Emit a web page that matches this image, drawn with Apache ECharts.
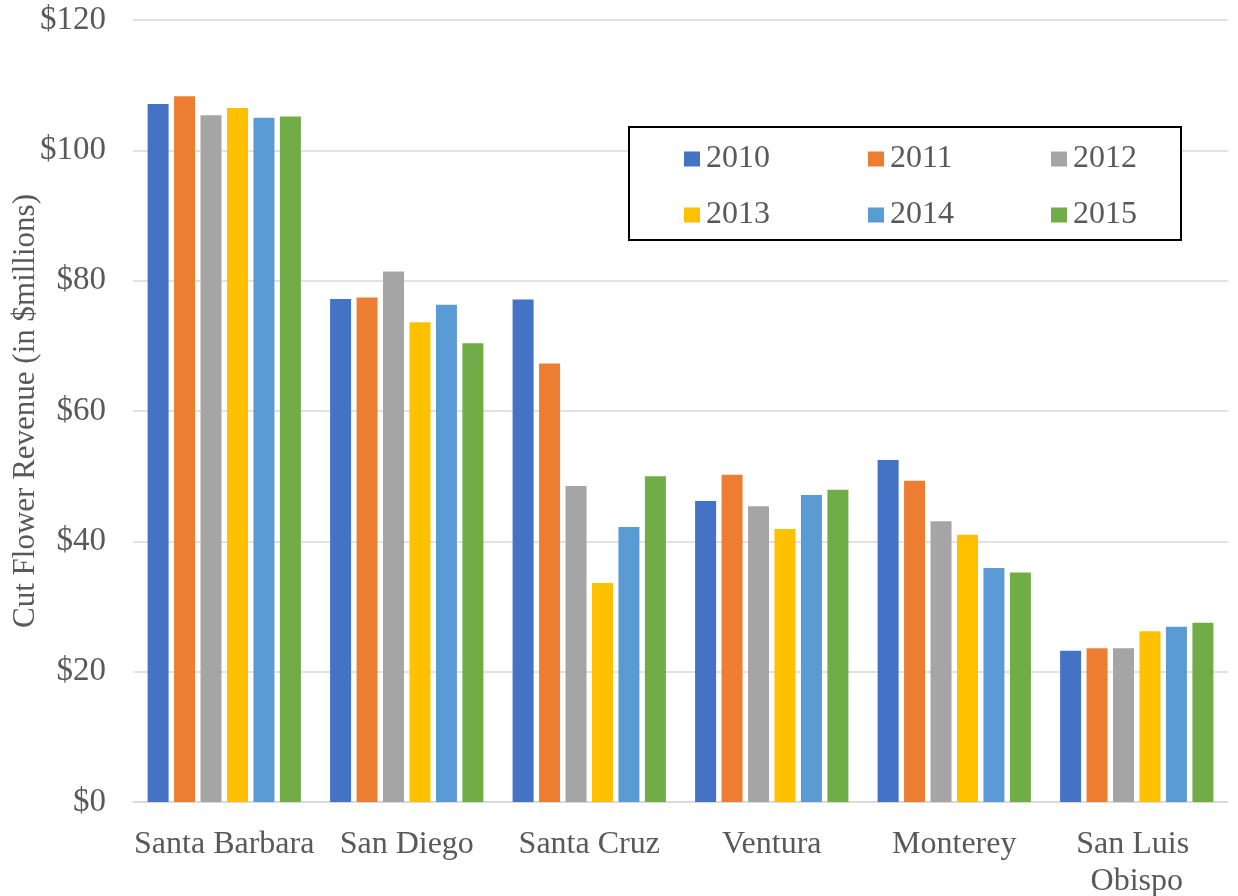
<!DOCTYPE html>
<html>
<head>
<meta charset="utf-8">
<script src="https://cdn.jsdelivr.net/npm/echarts@6/dist/echarts.min.js"></script>
<style>
  html, body { margin: 0; padding: 0; background: #fff; }
  #chart { width: 1238px; height: 896px; }
</style>
</head>
<body>
<div id="chart"></div>
<script>
var counties = ["Santa Barbara", "San Diego", "Santa Cruz", "Ventura", "Monterey", "San Luis Obispo"];
var years = ["2010", "2011", "2012", "2013", "2014", "2015"];
var colors = ["#4472C4", "#ED7D31", "#A5A5A5", "#FFC000", "#5B9BD5", "#70AD47"];

// revenue in $ millions, one array per year, in county order
var rev2010 = [107.1, 77.2, 77.1, 46.2, 52.5, 23.2];
var rev2011 = [108.3, 77.4, 67.3, 50.2, 49.3, 23.6];
var rev2012 = [105.4, 81.4, 48.5, 45.4, 43.1, 23.6];
var rev2013 = [106.5, 73.6, 33.6, 41.9, 41.0, 26.2];
var rev2014 = [105.0, 76.3, 42.2, 47.1, 35.9, 26.9];
var rev2015 = [105.2, 70.4, 50.0, 47.9, 35.2, 27.5];
var revenue = [rev2010, rev2011, rev2012, rev2013, rev2014, rev2015];

var font = "Liberation Serif";
var textColor = "#595959";

var myChart = echarts.init(document.getElementById("chart"));

function legendCol(names, left) {
  return {
    orient: "vertical",
    left: left,
    top: 143,
    padding: 0,
    itemWidth: 16,
    itemHeight: 15,
    itemGap: 24,
    icon: "rect",
    selectedMode: false,
    data: names,
    textStyle: {
      fontFamily: font,
      fontSize: 32,
      lineHeight: 32,
      padding: [0, 0, 0, 1],
      color: textColor
    }
  };
}

var series = years.map(function (y, i) {
  return {
    name: y,
    type: "bar",
    data: revenue[i],
    barWidth: 21,
    barGap: "26%",
    itemStyle: { color: colors[i] },
    animation: false
  };
});

var option = {
  backgroundColor: "#fff",
  color: colors,
  grid: {
    left: 133,
    right: 10,
    top: 20,
    bottom: 94,
    outerBoundsMode: "none"
  },
  graphic: [
    {
      type: "rect",
      z: 3,
      shape: { x: 629, y: 127, width: 552, height: 113 },
      style: { fill: "#fff", stroke: "#000", lineWidth: 2 }
    }
  ],
  legend: [
    legendCol(["2010", "2013"], 684),
    legendCol(["2011", "2014"], 868),
    legendCol(["2012", "2015"], 1051)
  ],
  xAxis: {
    type: "category",
    data: counties,
    axisTick: { show: false },
    axisLine: { lineStyle: { color: "#d9d9d9", width: 1.5 } },
    axisLabel: {
      interval: 0,
      margin: 24,
      width: 182,
      overflow: "break",
      fontFamily: font,
      fontSize: 32,
      lineHeight: 37,
      color: textColor
    }
  },
  yAxis: {
    type: "value",
    min: 0,
    max: 120,
    interval: 20,
    name: "Cut Flower Revenue (in $millions)",
    nameLocation: "middle",
    nameGap: 92,
    nameMoveOverlap: false,
    nameTextStyle: {
      fontFamily: font,
      fontSize: 31,
      color: textColor
    },
    axisLine: { show: false },
    axisTick: { show: false },
    splitLine: { lineStyle: { color: "#d9d9d9", width: 1.5 } },
    axisLabel: {
      margin: 27,
      fontFamily: font,
      fontSize: 33,
      color: textColor,
      formatter: function (v) { return "$" + v; }
    }
  },
  series: series
};

myChart.setOption(option);
window.addEventListener("resize", function () {
  myChart.resize();
});
</script>
</body>
</html>
